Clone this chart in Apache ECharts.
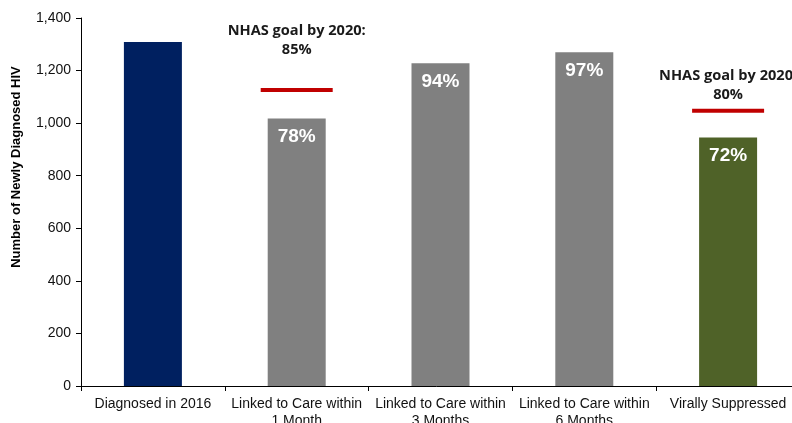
<!DOCTYPE html>
<html><head><meta charset="utf-8">
<script src="https://cdn.jsdelivr.net/npm/echarts@6/dist/echarts.min.js"></script>
<style>html,body{margin:0;padding:0;background:#fff}#c{width:792px;height:423px}</style>
</head><body><div id="c"></div>
<script>
var categories = ['Diagnosed in 2016', 'Linked to Care within\n1 Month', 'Linked to Care within\n3 Months', 'Linked to Care within\n6 Months', 'Virally Suppressed'];
var values = [1309, 1018, 1228, 1270, 945];
var percentLabels = ['', '78%', '94%', '97%', '72%'];
var barColors = ['#002060', '#808080', '#808080', '#808080', '#4f6228'];
var goalValues = [null, 1126, null, null, 1047];
var goalLabels = ['', 'NHAS goal by 2020:\n85%', '', '', 'NHAS goal by 2020:\n80%'];
var yTicks = [0, 200, 400, 600, 800, 1000, 1200, 1400];

var chart = echarts.init(document.getElementById('c'), null, {renderer: 'canvas'});
var goalDist = [0, 29, 0, 0, 4];
chart.setOption({
  animation: false,
  grid: {left: 81, top: 18, width: 719, height: 368, containLabel: false, outerBoundsMode: 'none'},
  xAxis: {
    type: 'category', data: categories,
    axisLine: {lineStyle: {color: '#000', width: 1}},
    axisTick: {show: true, length: 5, lineStyle: {color: '#000'}},
    axisLabel: {color: '#111', fontFamily: 'Liberation Sans, Arial', fontSize: 14, margin: 10, lineHeight: 17, interval: 0}
  },
  yAxis: {
    type: 'value', min: yTicks[0], max: yTicks[yTicks.length - 1], interval: 200,
    name: 'Number of Newly Diagnosed HIV', nameLocation: 'middle', nameGap: 58,
    nameTextStyle: {fontFamily: 'Liberation Sans, Arial', fontWeight: 'bold', fontSize: 13, color: '#000', padding: [0, 0, 0, 70]},
    axisLine: {show: true, lineStyle: {color: '#000', width: 1}},
    axisTick: {show: true, length: 5, lineStyle: {color: '#000'}},
    splitLine: {show: false},
    axisLabel: {color: '#111', fontFamily: 'Liberation Sans, Arial', fontSize: 14, margin: 10,
      formatter: function (v) { return v.toLocaleString('en-US'); }}
  },
  series: [
    {
      type: 'bar', barWidth: 58,
      data: values.map(function (v, i) { return {value: v, itemStyle: {color: barColors[i]}}; }),
      label: {show: true, position: 'insideTop', distance: 9, color: '#fff', fontFamily: 'Liberation Sans, Arial',
        fontWeight: 'bold', fontSize: 19,
        formatter: function (p) { return percentLabels[p.dataIndex]; }}
    },
    {
      type: 'scatter', symbol: 'rect', symbolSize: [72, 4], z: 5,
      itemStyle: {color: '#c00000', opacity: 1},
      data: goalValues.map(function (v, i) {
        return v == null ? null : {value: v, label: {distance: goalDist[i]}};
      }),
      label: {show: true, position: 'top', color: '#1a1a1a', fontFamily: 'Open Sans, Lato, sans-serif',
        fontWeight: 'bold', fontSize: 14.6, lineHeight: 19, align: 'center',
        formatter: function (p) { return goalLabels[p.dataIndex]; }}
    }
  ]
});
</script></body></html>
